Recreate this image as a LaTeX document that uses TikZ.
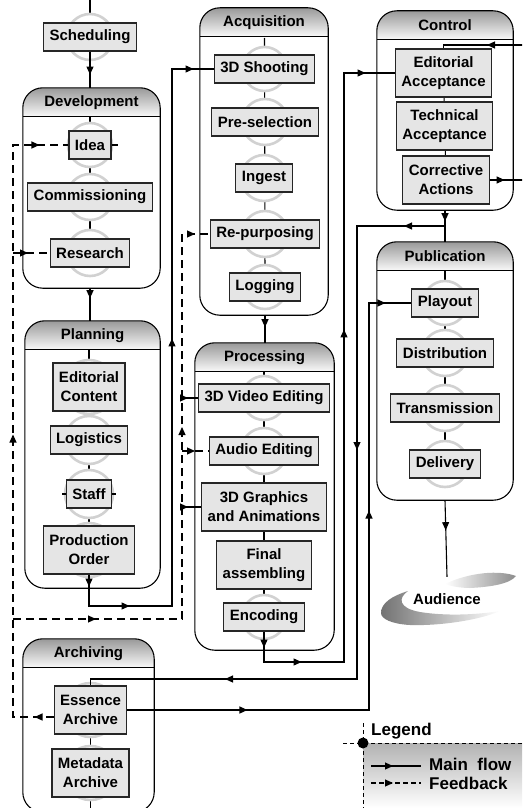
\documentclass[tikz,border=0pt]{standalone}
\usepackage{fontspec}
\setmainfont{Liberation Sans}
\usetikzlibrary{calc}
\usetikzlibrary{arrows.meta, decorations.markings}
\pgfdeclarelayer{background}
\pgfsetlayers{background,main}
\newcommand{\boxfont}{\fontsize{15}{19}\selectfont\bfseries}
\newcommand{\legendfont}{\fontsize{17}{20}\selectfont\bfseries}
\tikzstyle{box} = [rectangle, draw=black!85, fill=black!10, line width=1.1pt, inner xsep=6pt, minimum height=28pt, align=center, font=\boxfont]
\tikzstyle{tall} = [minimum height=48pt]
\tikzstyle{stage} = [rectangle, inner sep=0pt]
\tikzstyle{headtext} = [font=\boxfont]
\tikzstyle{flow} = [line width=1.1pt, black]
\tikzstyle{feedback} = [flow, dash pattern=on 8pt off 5pt]
\tikzstyle{ring} = [draw=black!18, line width=2.6pt, fill=white]
\tikzset{
  tip/.style={postaction={decorate, decoration={markings, mark=at position #1 with {\arrow{Triangle[length=8pt,width=7pt]}}}}}
}

\begin{document}
\begin{tikzpicture}[x=1pt, y=-1pt]

    \useasboundingbox (0,0) rectangle (522,808);
    \clip (0,0) rectangle (522,808);

    % Stages
    \node (dev)  [stage, minimum width=137, minimum height=200] at (91.5,188) {};
    \node (plan) [stage, minimum width=135, minimum height=267] at (92.5,454.5) {};
    \node (acq)  [stage, minimum width=128, minimum height=307] at (264,161.5) {};
    \node (proc) [stage, minimum width=139, minimum height=307] at (264.5,496.5) {};
    \node (ctrl) [stage, minimum width=136, minimum height=199] at (445,110.5) {};
    \node (pub)  [stage, minimum width=136, minimum height=258] at (445,371) {};
    \node (arch) [stage, minimum width=131, minimum height=173] at (88.5,725.5) {};

    \foreach \s/\t in {dev/Development, plan/Planning, acq/Acquisition, proc/Processing, ctrl/Control, pub/Publication, arch/Archiving} {
        \begin{scope}
            \clip[rounded corners=20pt] (\s.south west) rectangle (\s.north east);
            \shade[top color=black!40, bottom color=black!2] (\s.north west) rectangle ($(\s.north east)+(0,29)$);
        \end{scope}
        \draw[flow] ($(\s.north west)+(0,29)$) -- ($(\s.north east)+(0,29)$);
        \draw[flow, rounded corners=20pt] (\s.south west) rectangle (\s.north east);
        \node (\s-head) [headtext] at ($(\s.north)+(0,14.5)$) {\t};
    }

    % Tasks
    \node (sched) [box] at (90,37) {Scheduling};

    \node (idea) [box] at (90,145) {Idea};
    \node (comm) [box] at (90,197) {Commissioning};
    \node (res)  [box] at (90,253) {Research};

    \node (edcont) [box, tall] at (89,387) {Editorial\\Content};
    \node (logi)   [box] at (89,440) {Logistics};
    \node (staff)  [box] at (89,494) {Staff};
    \node (porder) [box, tall] at (89,550) {Production\\Order};

    \node (shoot)  [box] at (264.5,69) {3D Shooting};
    \node (presel) [box] at (265,122) {Pre-selection};
    \node (ingest) [box] at (264,178) {Ingest};
    \node (repurp) [box] at (265,234) {Re-purposing};
    \node (logg)   [box] at (265,287) {Logging};

    \node (vid)   [box] at (264,398) {3D Video Editing};
    \node (audio) [box] at (264,451) {Audio Editing};
    \node (gfx)   [box, tall] at (264,507) {3D Graphics\\and Animations};
    \node (final) [box, tall] at (264,565) {Final\\assembling};
    \node (enc)   [box] at (264,617) {Encoding};

    \node (edacc)   [box, tall] at (443.5,73) {Editorial\\Acceptance};
    \node (techacc) [box, tall] at (444.5,126) {Technical\\Acceptance};
    \node (corr)    [box, tall] at (446,180) {Corrective\\Actions};

    \node (play)  [box] at (445,303) {Playout};
    \node (distr) [box] at (445,353) {Distribution};
    \node (trans) [box] at (445,408) {Transmission};
    \node (deliv) [box] at (445,464) {Delivery};

    \node (ess)  [box, tall] at (90.5,710) {Essence\\Archive};
    \node (meta) [box, tall] at (90.5,773) {Metadata\\Archive};

    % Rings behind the tasks
    \begin{pgfonlayer}{background}
        \draw[flow] (sched |- 0,0) -- (sched);
        \draw[flow] ($(idea)+(0,-28)$) -- (res);
        \draw[flow] ($(edcont)+(0,-38)$) -- (porder);
        \draw[flow] ($(shoot)+(0,-31)$) -- (logg);
        \draw[flow] ($(vid)+(0,-26)$) -- (enc);
        \draw[flow] (edacc) -- (corr);
        \draw[flow] ($(play)+(0,-32)$) -- (deliv);
        \draw[flow] (ess) -- (meta |- 0,808);
        \foreach \n/\r in {sched/23, idea/22, comm/23, res/23, edcont/27, logi/24, staff/24, porder/27,
                           shoot/22, presel/23, ingest/23, repurp/23, logg/22, vid/22, audio/23, enc/22,
                           play/22, distr/23, trans/23, deliv/23, ess/27, meta/27}
            \draw[ring] (\n) circle (\r pt);
    \end{pgfonlayer}

    \draw[flow] (idea.east) -- ++(6,0);
    \draw[flow] (staff.west) -- ++(-4,0);
    \draw[flow] (staff.east) -- ++(4,0);

    % Main flow
    \draw[flow, tip=23pt] (sched.south) -- (sched.south |- dev.north);
    \draw[flow, tip=10pt] (dev.south -| res) -- (res |- plan.north);
    \draw[flow, tip=12pt, tip=72pt, tip=382pt, tip=673pt] (porder.south) |- (172,606) |- (shoot.west);
    \draw[flow, tip=12pt] (acq.south -| logg) -- (logg |- proc.north);
    \draw[flow, tip=16pt, tip=68pt, tip=443pt, tip=721pt] (enc.south) |- (344,662) |- (edacc.west);
    \draw[flow, tip=11pt] (ctrl.south) -- (pub.north);
    \coordinate (split) at (445,226);
    \draw[flow, tip=41pt, tip=312pt, tip=673pt] (split) -| (357,679) -| (ess.north);
    \draw[flow, tip=120pt, tip=441pt, tip=665pt] (ess.east) -| (369,303) -- (play.west);
    \coordinate (ctrlin) at (525,45);
    \coordinate (ctrlout) at (525,180);
    \draw[flow, tip=38pt] (ctrlin) -| (edacc.north);
    \draw[flow, tip=15pt] (corr.east) -- (ctrlout);

    % Feedback
    \draw[feedback, tip=19pt, tip=323pt, tip=639pt] ($(ess.west)+(0,7)$) -| (13,145) -- (idea.west);
    \draw[feedback, tip=15pt] (res.west -| 13,0) -- (res.west);
    \draw[feedback, tip=83pt, tip=361pt, tip=567pt] (13,619) -| (182,234) -- (repurp.west);
    \draw[flow, tip=6pt] (vid.west -| 182,0) -- (vid.west);
    \draw[feedback, tip=13pt] (audio.west -| 182,0) -- (audio.west);
    \draw[flow, tip=6pt] (gfx.west -| 182,0) -- (gfx.west);

    % Audience
    \shade[left color=white, right color=black!45] (445,584) .. controls (470,572) and (500,570) .. (516,576) .. controls (510,584) and (490,587) .. (470,588) .. controls (460,588) and (450,586) .. (445,584) -- cycle;
    \shade[left color=black!55, right color=white] (381,613) .. controls (381,603) and (392,596) .. (408,591) .. controls (398,598) and (398,608) .. (420,612) .. controls (445,616) and (475,615) .. (500,611) .. controls (480,620) and (440,626) .. (410,625) .. controls (392,624) and (381,619) .. (381,613) -- cycle;
    \node (aud) [font=\boxfont, minimum width=134, minimum height=44] at (447,599) {Audience};
    \draw[flow, tip=30pt] (pub.south) -- (aud.north);

    % Legend
    \shade[top color=black!30, bottom color=white] (363,743) rectangle (522,808);
    \draw[line width=1pt, dash pattern=on 4pt off 3pt] (363,723) -- (363,808);
    \draw[line width=1pt, dash pattern=on 4pt off 3pt] (343,743) -- (522,743);
    \fill (363,743) circle (5.5pt);
    \node (legend-title) [anchor=west, inner sep=1pt, font=\legendfont] at (370,731) {Legend};
    \node (legend-main) [anchor=west, inner sep=1pt, font=\legendfont] at (428,764) {Main\ \ flow};
    \node (legend-fb) [anchor=west, inner sep=1pt, font=\legendfont] at (428,783) {Feedback};
    \draw[flow, tip=22pt] (371,766) -- (421,766);
    \draw[feedback, dash pattern=on 5pt off 3pt, tip=22pt] (371,783) -- (421,783);

\end{tikzpicture}
\end{document}
